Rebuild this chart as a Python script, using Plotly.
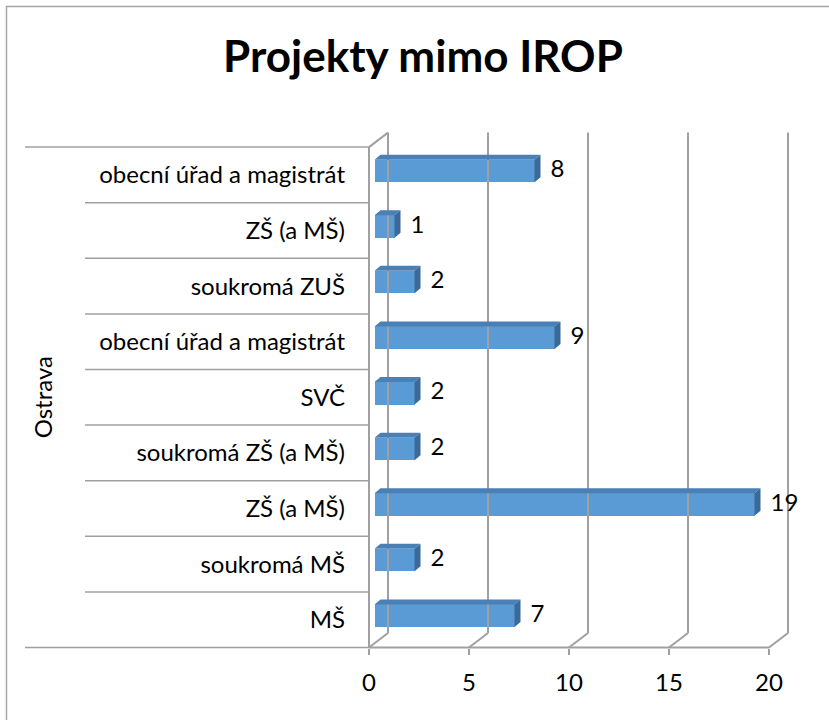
import plotly.graph_objects as go

# ---- data ----
categories = ["MŠ", "soukromá MŠ", "ZŠ (a MŠ)", "soukromá ZŠ (a MŠ)", "SVČ",
              "obecní úřad a magistrát", "soukromá ZUŠ", "ZŠ (a MŠ)",
              "obecní úřad a magistrát"]
values = [7, 2, 19, 2, 2, 9, 2, 1, 8]
group_label = "Ostrava"
x_ticks = [0, 5, 10, 15, 20]
title_text = "Projekty mimo IROP"

# ---- geometry / style ----
W, H = 829, 720
PX_PER_UNIT = 20.0
X0_PX = 369.0
CAT_H = 55.6
FLOOR_PX = 647.5

x_range = [-X0_PX / PX_PER_UNIT, (W - X0_PX) / PX_PER_UNIT]
y_range = [(FLOOR_PX - H) / CAT_H - 0.5, FLOOR_PX / CAT_H - 0.5]

DX = 0.95          # wall depth (x units)
DY = 14.5 / CAT_H  # wall depth (y units)
BX = 0.275         # bar front offset
BY = 4.0 / CAT_H
BH = 22.5 / CAT_H  # bar thickness
DDX = 0.3          # bar depth
DDY = 5.0 / CAT_H

GRID = "#A0A0A0"
FRONT = "#5B9BD5"
TOP = "#4A80B6"
SIDE = "#3B6A98"
FONT = "Lato"
FS = 24

n = len(categories)
lo, hi = -0.5, n - 0.5
fig = go.Figure()

# back wall gridlines + floor diagonals + left wall
gx, gy = [], []
for t in x_ticks:
    gx += [t + DX, t + DX, None, t, t + DX, None]
    gy += [lo + DY, hi + DY, None, lo, lo + DY, None]
gx += [0, 0, None, 0, DX, None, 0, x_ticks[-1], None]
gy += [lo, hi, None, hi, hi + DY, None, lo, lo, None]
fig.add_trace(go.Scatter(x=gx, y=gy, mode="lines",
                         line=dict(color=GRID, width=2),
                         hoverinfo="skip", showlegend=False))

# category separator lines
sx, sy = [], []
for k in range(n + 1):
    b = lo + k
    start = -17.2 if k in (0, n) else -14.2
    sx += [start, 0, None]
    sy += [b, b, None]
fig.add_trace(go.Scatter(x=sx, y=sy, mode="lines",
                         line=dict(color=GRID, width=1.5),
                         hoverinfo="skip", showlegend=False))

# bars: front face
ys = [i + BY for i in range(n)]
fig.add_trace(go.Bar(y=ys, x=values, base=BX, width=BH, orientation="h",
                     marker=dict(color=FRONT, line=dict(width=0)),
                     showlegend=False, hoverinfo="skip"))

# top and side faces
tx, ty, rx, ry = [], [], [], []
for i, v in enumerate(values):
    top = i + BY + BH / 2
    bot = i + BY - BH / 2
    x1 = BX + v
    tx += [BX, x1, x1 + DDX, BX + DDX, BX, None]
    ty += [top, top, top + DDY, top + DDY, top, None]
    rx += [x1, x1, x1 + DDX, x1 + DDX, x1, None]
    ry += [bot, top, top + DDY, bot + DDY, bot, None]
fig.add_trace(go.Scatter(x=tx, y=ty, mode="lines", fill="toself",
                         fillcolor=TOP, line=dict(width=0, color=TOP),
                         hoverinfo="skip", showlegend=False))
fig.add_trace(go.Scatter(x=rx, y=ry, mode="lines", fill="toself",
                         fillcolor=SIDE, line=dict(width=0, color=SIDE),
                         hoverinfo="skip", showlegend=False))

# data labels
fig.add_trace(go.Scatter(x=[BX + v + DDX + 0.5 for v in values], y=ys,
                         mode="text", text=[str(v) for v in values],
                         textposition="middle right",
                         textfont=dict(family=FONT, size=FS, color="black"),
                         hoverinfo="skip", showlegend=False))

fig.add_annotation(x=(42 - X0_PX) / PX_PER_UNIT, y=(n - 1) / 2,
                   text=group_label, textangle=-90, showarrow=False,
                   font=dict(family=FONT, size=FS, color="black"))

fig.add_shape(type="rect", xref="paper", yref="paper",
              x0=6.5 / W, x1=1.05, y0=-0.05, y1=(H - 6.5) / H,
              line=dict(color="#A6A6A6", width=1.5), layer="below")

fig.update_layout(
    width=W, height=H, margin=dict(l=0, r=0, t=0, b=0),
    paper_bgcolor="white", plot_bgcolor="white",
    title=dict(text="<b>" + title_text + "</b>", x=423 / W, xanchor="center",
               y=1 - 57 / H, yanchor="middle",
               font=dict(family=FONT, size=44, color="black")),
    xaxis=dict(range=x_range, anchor="free", position=(H - FLOOR_PX) / H,
               tickvals=x_ticks, ticktext=[str(t) for t in x_ticks],
               ticks="outside", ticklen=6, tickwidth=1.5, tickcolor=GRID,
               showgrid=False, zeroline=False, showline=False,
               ticklabelstandoff=8,
               tickfont=dict(family=FONT, size=FS, color="black")),
    yaxis=dict(range=y_range, anchor="free", position=X0_PX / W,
               tickvals=list(range(n)), ticktext=categories,
               ticks="", showgrid=False, zeroline=False, showline=False,
               ticklabelstandoff=24,
               tickfont=dict(family=FONT, size=FS, color="black")),
    bargap=0,
)

fig.write_html("out.html", config={"displayModeBar": False},
               post_script="document.body.style.margin='0';"
                           "document.body.style.overflow='hidden';")
